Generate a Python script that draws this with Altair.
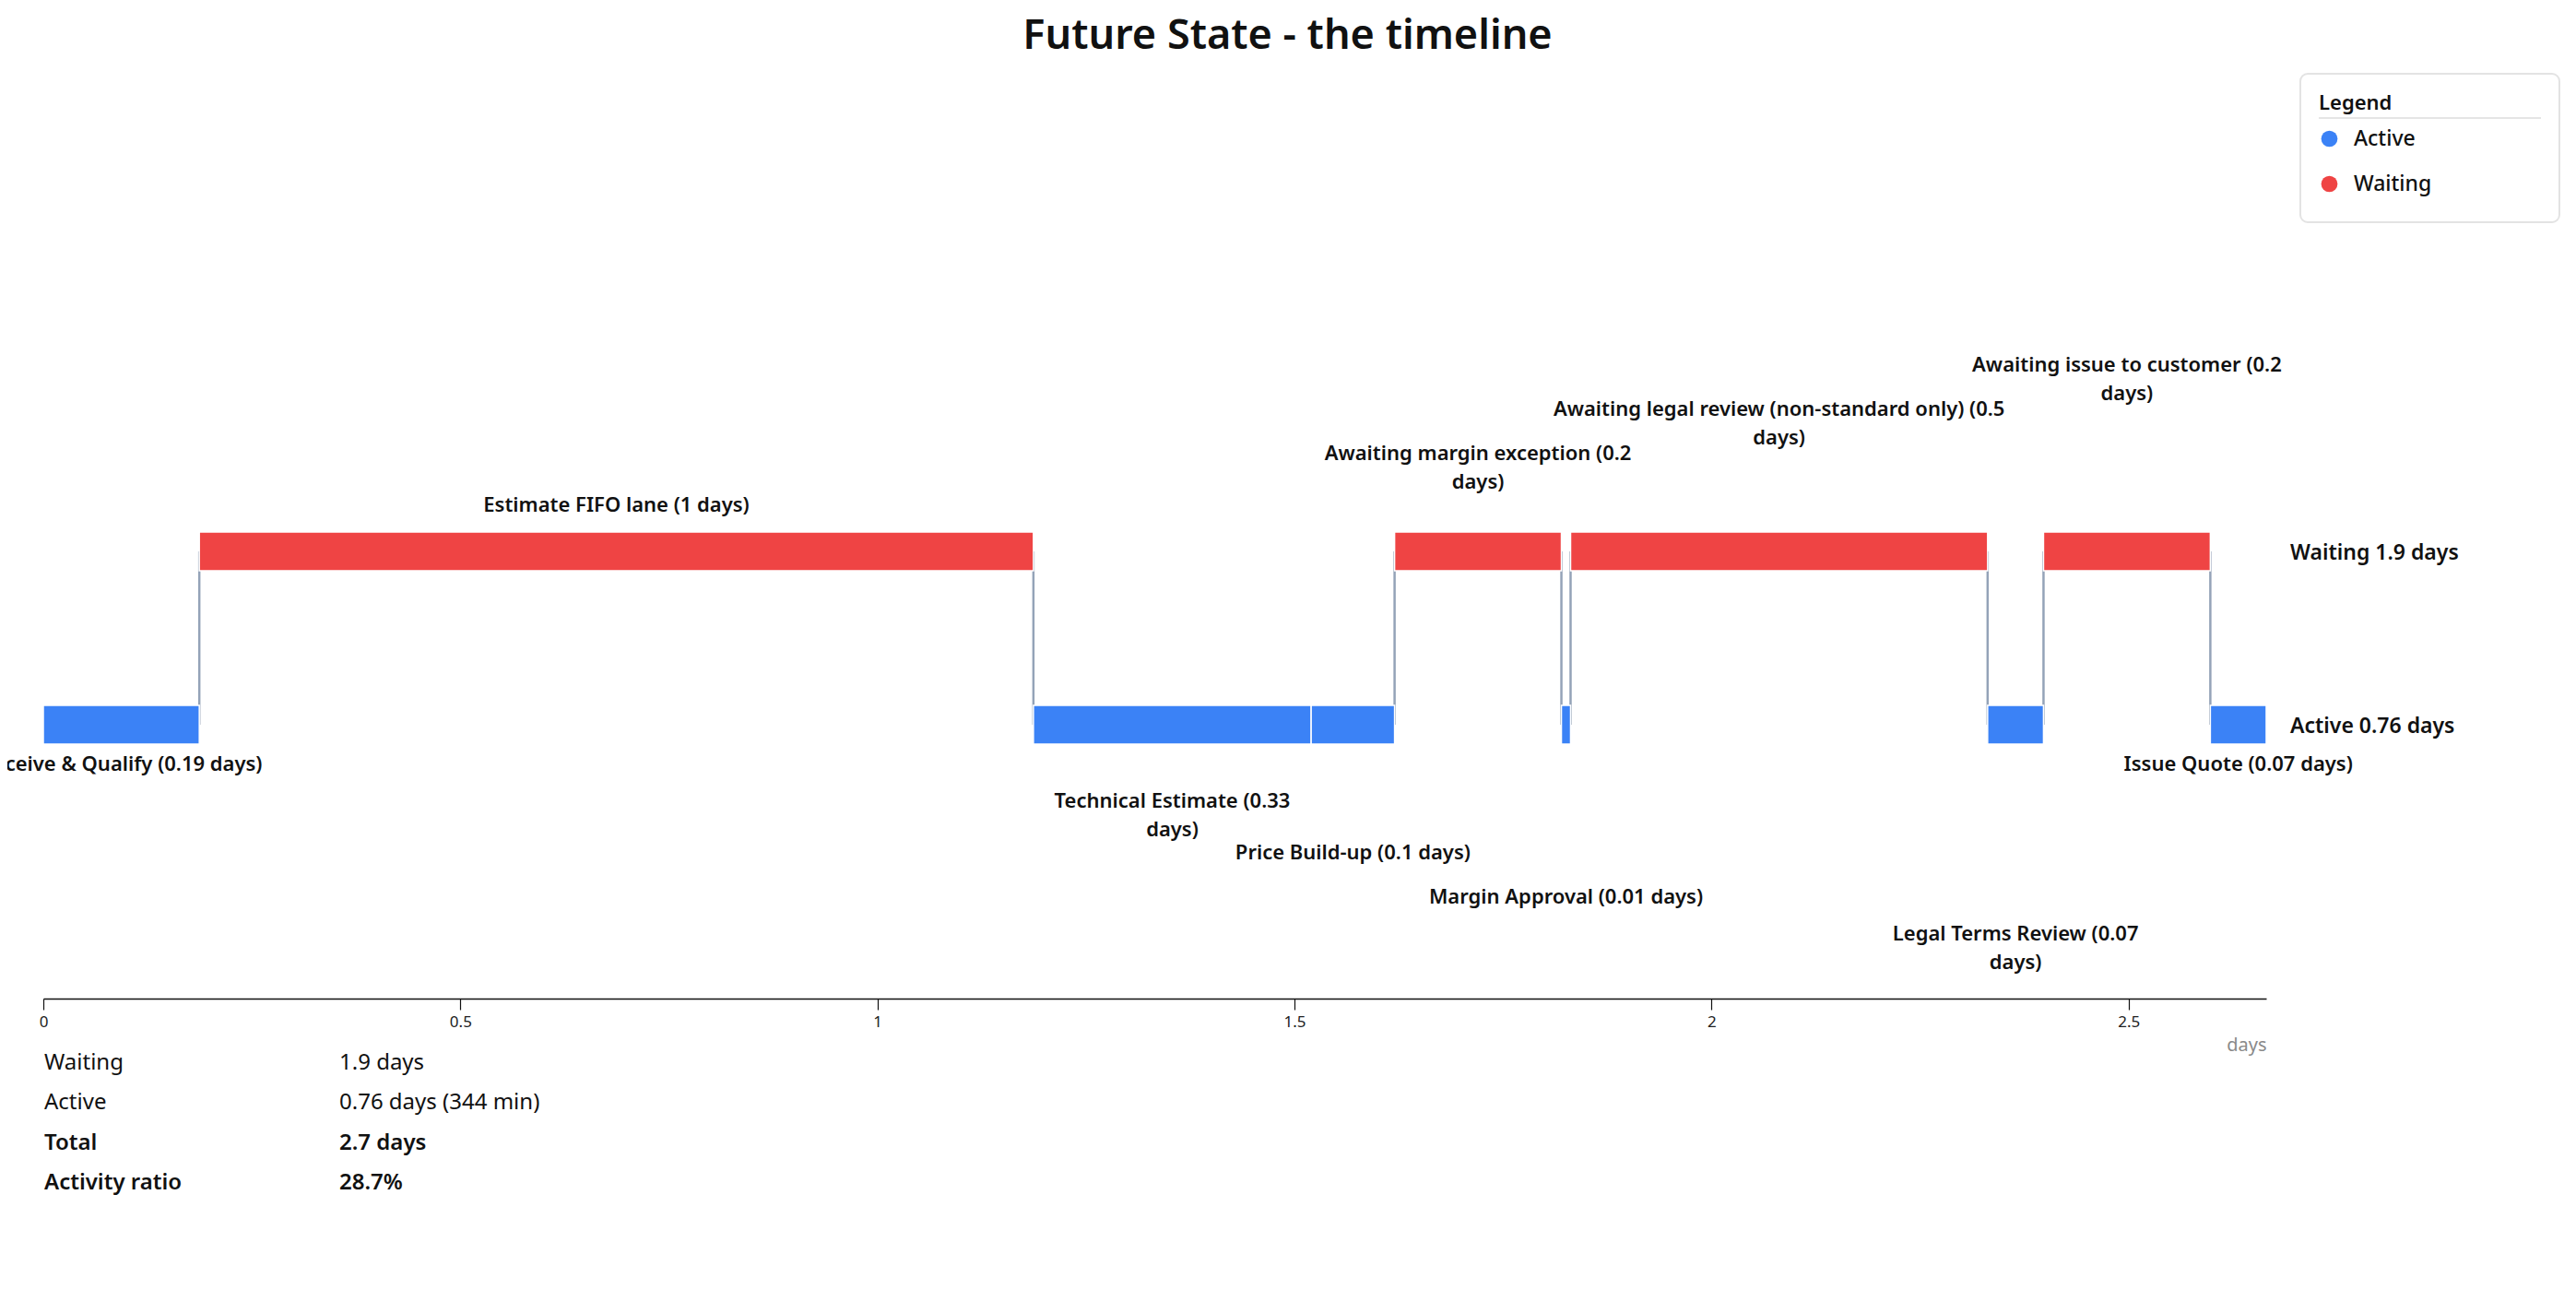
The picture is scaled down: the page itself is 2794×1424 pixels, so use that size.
import altair as alt
import pandas as pd

# ---------------- data ----------------
chart_title = "Future State - the timeline"

step_names = [
    "Receive & Qualify",
    "Estimate FIFO lane",
    "Technical Estimate",
    "Price Build-up",
    "Awaiting margin exception",
    "Margin Approval",
    "Awaiting legal review (non-standard only)",
    "Legal Terms Review",
    "Awaiting issue to customer",
    "Issue Quote",
]
step_kinds = ["Active", "Waiting", "Active", "Active", "Waiting",
              "Active", "Waiting", "Active", "Waiting", "Active"]
step_days = [0.187, 1.0, 0.333, 0.1, 0.2, 0.011, 0.5, 0.067, 0.2, 0.067]

lane_names = ["Waiting", "Active"]
lane_totals = ["Waiting 1.9 days", "Active 0.76 days"]

stat_names = ["Waiting", "Active", "Total", "Activity ratio"]
stat_values = ["1.9 days", "0.76 days (344 min)", "2.7 days", "28.7%"]

tick_values = [0, 0.5, 1, 1.5, 2, 2.5]

# ---------------- layout (not data) ----------------
label_tiers = [0, 0, 1, 2, 1, 3, 2, 4, 3, 0]   # stagger tier of each step label
FONT = "Noto Sans"
BLUE, RED, LINK = "#3b82f6", "#ef4444", "#94a3b8"
W, H = 2411, 1075
LANE_RANGE = [778, 590]          # pixel rows of Active (0) and Waiting (1)

lane_idx = {"Active": 0, "Waiting": 1}


def fmt_days(d):
    return ("%.2f" % d).rstrip("0").rstrip(".")


# build tables from the lists
starts, ends, t = [], [], 0.0
for d in step_days:
    starts.append(t)
    t += d
    ends.append(t)
total = t

labels, nlines = [], []
for n, d in zip(step_names, step_days):
    s = f"{n} ({fmt_days(d)} days)"
    if len(s) > 29:
        head, tail = s.rsplit(" ", 1)
        s = head + "\n" + tail
    labels.append(s)
    nlines.append(s.count("\n") + 1)

steps = pd.DataFrame({
    "step": step_names,
    "kind": step_kinds,
    "lane": [lane_idx[k] for k in step_kinds],
    "start": starts,
    "end": ends,
    "mid": [(a + b) / 2 for a, b in zip(starts, ends)],
    "label": labels,
    "lines": nlines,
    "tier": label_tiers,
})

chg = [i for i in range(len(step_kinds) - 1) if step_kinds[i] != step_kinds[i + 1]]
links = pd.DataFrame({
    "x": [ends[i] for i in chg],
    "y_from": [lane_idx[step_kinds[i]] for i in chg],
    "y_to": [lane_idx[step_kinds[i + 1]] for i in chg],
})

lanes = pd.DataFrame({
    "lane": [lane_idx[k] for k in lane_names],
    "text": lane_totals,
    "x": [total] * len(lane_names),
})

stats = pd.DataFrame({
    "row": list(range(len(stat_names))),
    "name": stat_names,
    "value": stat_values,
})

xscale = alt.Scale(domain=[0, total], nice=False, zero=True)
yscale = alt.Scale(domain=[0, 1], range=LANE_RANGE, padding=0, nice=False, zero=False)

x_axis = alt.Axis(
    values=tick_values, format="~g", title="days", grid=False,
    labelFont=FONT, labelFontSize=17, labelColor="#222", labelFlush=False, labelPadding=5,
    tickSize=12, tickColor="#111", tickWidth=1.2,
    domainColor="#111", domainWidth=1.6,
    titleFont=FONT, titleFontSize=20, titleFontWeight="normal", titleColor="#8a8a8a",
    titleX=W, titleY=50, titleAlign="right", titleBaseline="middle",
)

# connectors between lanes
link_layer = alt.Chart(links).mark_rule(color=LINK, strokeWidth=2.5).encode(
    x=alt.X("x:Q", scale=xscale, axis=x_axis),
    y=alt.Y("y_from:Q", scale=yscale, axis=None),
    y2="y_to:Q",
)

# bars
bar_layer = alt.Chart(steps).mark_bar(size=42, stroke="white", strokeWidth=1.5).encode(
    x=alt.X("start:Q", scale=xscale, axis=x_axis),
    x2="end:Q",
    y=alt.Y("lane:Q", scale=yscale, axis=None),
    color=alt.Color(
        "kind:N",
        scale=alt.Scale(domain=["Active", "Waiting"], range=[BLUE, RED]),
        legend=alt.Legend(
            title="Legend", orient="none", legendX=2450, legendY=75.5, padding=18,
            symbolType="circle", symbolSize=314, symbolStrokeWidth=0, symbolOpacity=1,
            titleFont=FONT, titleFontSize=22, titleFontWeight=600, titleColor="#111",
            titlePadding=15.5,
            labelFont=FONT, labelFontSize=23, labelFontWeight=500, labelColor="#111",
            labelOffset=15, rowPadding=25, zindex=1,
        ),
    ),
)

# step labels, staggered in tiers (first line of a wrapped label sits 8px higher)
text_layers = []
for kind, sign, base in [("Active", 1, 43), ("Waiting", -1, 50)]:
    for tier in sorted(set(label_tiers)):
        for nl in (1, 2):
            sub = steps[(steps.kind == kind) & (steps.tier == tier) & (steps.lines == nl)]
            if sub.empty:
                continue
            dy = sign * (base + 48 * tier) - 8 * (nl - 1)
            text_layers.append(
                alt.Chart(sub).mark_text(
                    align="center", baseline="middle", font=FONT, fontSize=22,
                    fontWeight=600, color="#111", lineBreak="\n", lineHeight=31, dy=dy,
                ).encode(
                    x=alt.X("mid:Q", scale=xscale, axis=x_axis),
                    y=alt.Y("lane:Q", scale=yscale, axis=None),
                    text="label:N",
                )
            )

# lane totals at right
lane_layer = alt.Chart(lanes).mark_text(
    align="left", baseline="middle", font=FONT, fontSize=23, fontWeight=600,
    color="#111", dx=26, dy=2,
).encode(
    x=alt.X("x:Q", scale=xscale, axis=x_axis),
    y=alt.Y("lane:Q", scale=yscale, axis=None),
    text="text:N",
)

# title, legend frame + divider (decoration)
one = pd.DataFrame({"title": [chart_title]})
title_layer = alt.Chart(one).mark_text(
    align="center", baseline="alphabetic", font=FONT, fontSize=45, fontWeight=600,
    color="#111",
).encode(x=alt.value(1349.5), y=alt.value(45), text="title:N")
legend_box = alt.Chart(one).mark_rect(
    filled=False, stroke="#e3e3e3", strokeWidth=2, cornerRadius=8,
).encode(x=alt.value(2448), x2=alt.value(2729), y=alt.value(72), y2=alt.value(233))
legend_rule = alt.Chart(one).mark_rule(color="#dddddd", strokeWidth=1.5).encode(
    x=alt.value(2468), x2=alt.value(2709), y=alt.value(120)
)

main = alt.layer(link_layer, bar_layer, *text_layers, lane_layer,
                 title_layer, legend_box, legend_rule)

# summary table under the axis
sscale = alt.Scale(domain=[0, 3], range=[1152, 1282], nice=False, zero=False)
stat_layers = []
for rows, weight in [([0, 1], "normal"), ([2, 3], 600)]:
    sub = stats[stats.row.isin(rows)]
    for col, xpos in [("name", 1), ("value", 321)]:
        stat_layers.append(
            alt.Chart(sub).mark_text(
                align="left", baseline="alphabetic", font=FONT, fontSize=24,
                fontWeight=weight, color="#111",
            ).encode(
                x=alt.value(xpos),
                y=alt.Y("row:Q", scale=sscale, axis=None),
                text=f"{col}:N",
            )
        )
summary = alt.layer(*stat_layers)

chart = alt.layer(main, summary).resolve_scale(y="independent").properties(
    width=W,
    height=H,
    padding={"left": 39, "top": 0, "right": 328, "bottom": 300},
    autosize=alt.AutoSizeParams(type="none"),
).configure_view(strokeWidth=0)

chart.save("out.html", embed_options={"renderer": "svg", "actions": False})
